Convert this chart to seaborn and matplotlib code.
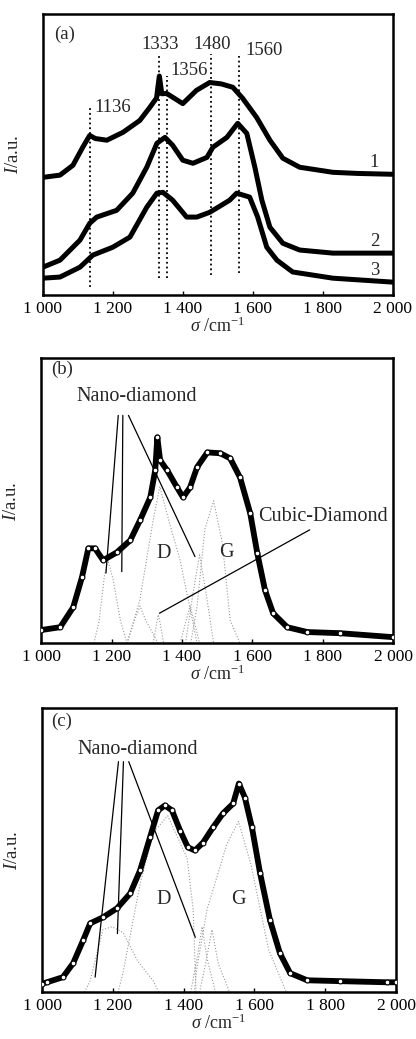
#Raman spectra of diamond films, three panels (a) (b) (c)

#import libraries
import matplotlib
matplotlib.use("Agg")
import matplotlib.pyplot as plt
import seaborn as sns

#x axis ticks
ticks = [1000, 1200, 1400, 1600, 1800, 2000]
tick_labels = ["1 000", "1 200", "1 400", "1 600", "1 800", "2 000"]

#panel (a) : three spectra (normalized intensity)
a_x1 = [1000, 1049, 1086, 1114, 1134, 1150, 1183, 1229, 1277, 1306, 1325, 1329, 1333, 1340, 1354, 1400,
        1439, 1477, 1510, 1543, 1571, 1611, 1649, 1686, 1734, 1829, 1900, 2000]
a_y1 = [0.418, 0.426, 0.461, 0.525, 0.567, 0.556, 0.550, 0.578, 0.620, 0.667, 0.700, 0.740, 0.778, 0.715, 0.716, 0.680,
        0.727, 0.755, 0.750, 0.738, 0.699, 0.631, 0.550, 0.486, 0.454, 0.436, 0.432, 0.429]
a_x2 = [1000, 1049, 1106, 1134, 1154, 1211, 1257, 1297, 1326, 1349, 1371, 1400, 1429, 1469, 1486, 1526,
        1557, 1583, 1606, 1626, 1649, 1686, 1734, 1829, 2000]
a_y2 = [0.099, 0.124, 0.195, 0.255, 0.277, 0.301, 0.362, 0.454, 0.539, 0.560, 0.532, 0.479, 0.468, 0.489, 0.525, 0.560,
        0.610, 0.574, 0.454, 0.337, 0.241, 0.184, 0.160, 0.149, 0.149]
a_x3 = [1000, 1049, 1106, 1143, 1200, 1249, 1297, 1326, 1343, 1371, 1411, 1440, 1477, 1497, 1534, 1554,
        1591, 1614, 1640, 1669, 1714, 1829, 2000]
a_y3 = [0.060, 0.064, 0.099, 0.142, 0.170, 0.206, 0.312, 0.362, 0.365, 0.337, 0.277, 0.277, 0.294, 0.309, 0.337, 0.362,
        0.348, 0.277, 0.170, 0.124, 0.082, 0.060, 0.046]
a_peaks = [1136, 1333, 1356, 1480, 1560]
a_peak_lo = [0.030, 0.059, 0.059, 0.071, 0.077]
a_peak_hi = [0.667, 0.856, 0.779, 0.856, 0.850]
a_curve_names = ["1", "2", "3"]
a_curve_label_y = [0.472, 0.189, 0.089]

#panel (b) : measured spectrum
b_x = [1000, 1054, 1091, 1116, 1134, 1153, 1176, 1215, 1253, 1281, 1310, 1324, 1330, 1338, 1358, 1386,
       1403, 1423, 1443, 1472, 1509, 1537, 1565, 1594, 1614, 1636, 1659, 1699, 1756, 1849, 2000]
b_y = [0.046, 0.056, 0.126, 0.232, 0.333, 0.333, 0.291, 0.319, 0.361, 0.432, 0.512, 0.607, 0.723, 0.642, 0.607, 0.547,
       0.512, 0.547, 0.618, 0.670, 0.667, 0.649, 0.582, 0.456, 0.316, 0.186, 0.105, 0.056, 0.039, 0.035, 0.021]
#fitted components of (b), dotted
b_nano1_x = [1150, 1165, 1180, 1190, 1205, 1225, 1244]
b_nano1_y = [0.00, 0.08, 0.24, 0.29, 0.22, 0.08, 0.00]
b_nano2_x = [1244, 1265, 1281, 1297, 1332]
b_nano2_y = [0.00, 0.08, 0.13, 0.08, 0.00]
b_d_x = [1244, 1280, 1318, 1337, 1365, 1395, 1443]
b_d_y = [0.00, 0.15, 0.43, 0.55, 0.42, 0.29, 0.00]
b_cubic_x = [1318, 1328, 1333, 1338, 1348]
b_cubic_y = [0.00, 0.07, 0.10, 0.07, 0.00]
b_nano3_x = [1395, 1412, 1423, 1434, 1450]
b_nano3_y = [0.00, 0.08, 0.13, 0.08, 0.00]
b_nano4_x = [1410, 1432, 1450, 1468, 1490]
b_nano4_y = [0.00, 0.18, 0.31, 0.18, 0.00]
b_g_x = [1425, 1443, 1465, 1490, 1515, 1537, 1565]
b_g_y = [0.00, 0.13, 0.40, 0.50, 0.35, 0.08, 0.00]
b_peaks_x = [b_nano1_x, b_nano2_x, b_d_x, b_cubic_x, b_nano3_x, b_nano4_x, b_g_x]
b_peaks_y = [b_nano1_y, b_nano2_y, b_d_y, b_cubic_y, b_nano3_y, b_nano4_y, b_g_y]
#leader lines of (b)
b_nano_start_x = [1219, 1232, 1248]
b_nano_end_x = [1184, 1229, 1437]
b_nano_end_y = [0.246, 0.251, 0.304]
b_cubic_line_x = [1336, 1763]
b_cubic_line_y = [0.105, 0.398]

#panel (c) : measured spectrum
c_x = [1000, 1014, 1059, 1088, 1116, 1136, 1172, 1212, 1249, 1277, 1305, 1328, 1347, 1367, 1390, 1412,
       1432, 1455, 1483, 1511, 1540, 1556, 1573, 1593, 1616, 1644, 1672, 1701, 1749, 1842, 1975, 2000]
c_y = [0.030, 0.035, 0.053, 0.102, 0.182, 0.242, 0.263, 0.295, 0.347, 0.428, 0.544, 0.639, 0.656, 0.639, 0.568, 0.509,
       0.498, 0.526, 0.579, 0.628, 0.663, 0.733, 0.684, 0.579, 0.418, 0.253, 0.137, 0.067, 0.042, 0.039, 0.035, 0.035]
#fitted components of (c), dotted
c_nano1_x = [1120, 1136, 1172, 1198, 1229, 1270, 1314, 1330]
c_nano1_y = [0.00, 0.04, 0.22, 0.23, 0.21, 0.11, 0.04, 0.00]
c_d_x = [1215, 1229, 1277, 1314, 1355, 1410, 1427, 1435]
c_d_y = [0.00, 0.07, 0.38, 0.56, 0.62, 0.47, 0.29, 0.00]
c_nano2_x = [1420, 1438, 1452, 1466, 1490]
c_nano2_y = [0.00, 0.12, 0.23, 0.12, 0.00]
c_nano3_x = [1445, 1462, 1480, 1498, 1530]
c_nano3_y = [0.00, 0.10, 0.22, 0.10, 0.00]
c_g_x = [1430, 1438, 1466, 1522, 1555, 1590, 1640, 1690]
c_g_y = [0.00, 0.09, 0.29, 0.52, 0.60, 0.45, 0.15, 0.00]
c_peaks_x = [c_nano1_x, c_d_x, c_nano2_x, c_nano3_x, c_g_x]
c_peaks_y = [c_nano1_y, c_d_y, c_nano2_y, c_nano3_y, c_g_y]
#leader lines of (c)
c_nano_start_x = [1216, 1230, 1245]
c_nano_end_x = [1150, 1213, 1433]
c_nano_end_y = [0.053, 0.206, 0.193]


sns.set_theme(style="ticks")
plt.rcParams['font.family'] = ['Liberation Serif', 'DejaVu Serif']
plt.rcParams['mathtext.fontset'] = 'custom'
plt.rcParams['mathtext.rm'] = 'Liberation Serif'
plt.rcParams['mathtext.it'] = 'Liberation Serif:italic'


def style_axis(ax):
    ax.set_xlim(1000, 2000)
    ax.set_ylim(0, 1)
    ax.set_xticks(ticks)
    ax.set_xticklabels(tick_labels, fontsize=12.5)
    ax.set_yticks([])
    ax.tick_params(direction='in', length=3, width=1, pad=4, colors='black')
    for s in ax.spines.values():
        s.set_linewidth(1.8)
        s.set_color('black')
    ax.set_xlabel(r"$\sigma$ /cm$^{-1}$", fontsize=13, labelpad=0)
    ax.set_ylabel(r"$I$/a.u.", fontsize=13.5, labelpad=15)


def draw_fit(ax, x, y, px, py):
    for xs, ys in zip(px, py):
        sns.lineplot(x=xs, y=ys, ax=ax, color='0.6', lw=0.8, linestyle=':', estimator=None, sort=False)
    sns.lineplot(x=x, y=y, ax=ax, color='black', lw=4.2, estimator=None, sort=False)
    sns.scatterplot(x=x, y=y, ax=ax, marker='o', s=12, facecolor='white', edgecolor='black',
                    linewidth=0.8, zorder=5)


def draw_leaders(ax, start_x, start_y, end_x, end_y):
    for sx, ex, ey in zip(start_x, end_x, end_y):
        ax.plot([sx, ex], [start_y, ey], color='black', lw=0.9)


fig = plt.figure(figsize=(4.16, 10.39), dpi=100)
ax_a = fig.add_axes([0.103, 0.716, 0.841, 0.271])
ax_b = fig.add_axes([0.099, 0.381, 0.846, 0.274])
ax_c = fig.add_axes([0.101, 0.045, 0.851, 0.274])

#panel (a)
for xs, ys in [(a_x1, a_y1), (a_x2, a_y2), (a_x3, a_y3)]:
    sns.lineplot(x=xs, y=ys, ax=ax_a, color='black', lw=3.6, estimator=None, sort=False)
ax_a.vlines(a_peaks, a_peak_lo, a_peak_hi, colors='black', linestyles=':', lw=1.3)
ax_a.text(1147, 0.667, "1136", fontsize=13.5, ha='left', va='center')
ax_a.text(1335, 0.891, "1333", fontsize=13.5, ha='center', va='center')
ax_a.text(1418, 0.797, "1356", fontsize=13.5, ha='center', va='center')
ax_a.text(1484, 0.891, "1480", fontsize=13.5, ha='center', va='center')
ax_a.text(1632, 0.868, "1560", fontsize=13.5, ha='center', va='center')
for name, ly in zip(a_curve_names, a_curve_label_y):
    ax_a.text(1948, ly, name, fontsize=13.5, ha='center', va='center')
ax_a.text(1062, 0.927, "(a)", fontsize=13.5, ha='center', va='center')
style_axis(ax_a)

#panel (b)
draw_fit(ax_b, b_x, b_y, b_peaks_x, b_peaks_y)
draw_leaders(ax_b, b_nano_start_x, 0.80, b_nano_end_x, b_nano_end_y)
ax_b.plot(b_cubic_line_x, b_cubic_line_y, color='black', lw=0.9)
ax_b.text(1059, 0.96, "(b)", fontsize=13.5, ha='center', va='center')
ax_b.text(1101, 0.865, "Nano-diamond", fontsize=14.5, ha='left', va='center')
ax_b.text(1801, 0.444, "Cubic-Diamond", fontsize=14.5, ha='center', va='center')
ax_b.text(1347, 0.316, "D", fontsize=14.5, ha='center', va='center')
ax_b.text(1527, 0.32, "G", fontsize=14.5, ha='center', va='center')
style_axis(ax_b)

#panel (c)
draw_fit(ax_c, c_x, c_y, c_peaks_x, c_peaks_y)
draw_leaders(ax_c, c_nano_start_x, 0.81, c_nano_end_x, c_nano_end_y)
ax_c.text(1056, 0.953, "(c)", fontsize=13.5, ha='center', va='center')
ax_c.text(1099, 0.854, "Nano-diamond", fontsize=14.5, ha='left', va='center')
ax_c.text(1343, 0.327, "D", fontsize=14.5, ha='center', va='center')
ax_c.text(1555, 0.327, "G", fontsize=14.5, ha='center', va='center')
style_axis(ax_c)

fig.savefig("out.png", dpi=100)
